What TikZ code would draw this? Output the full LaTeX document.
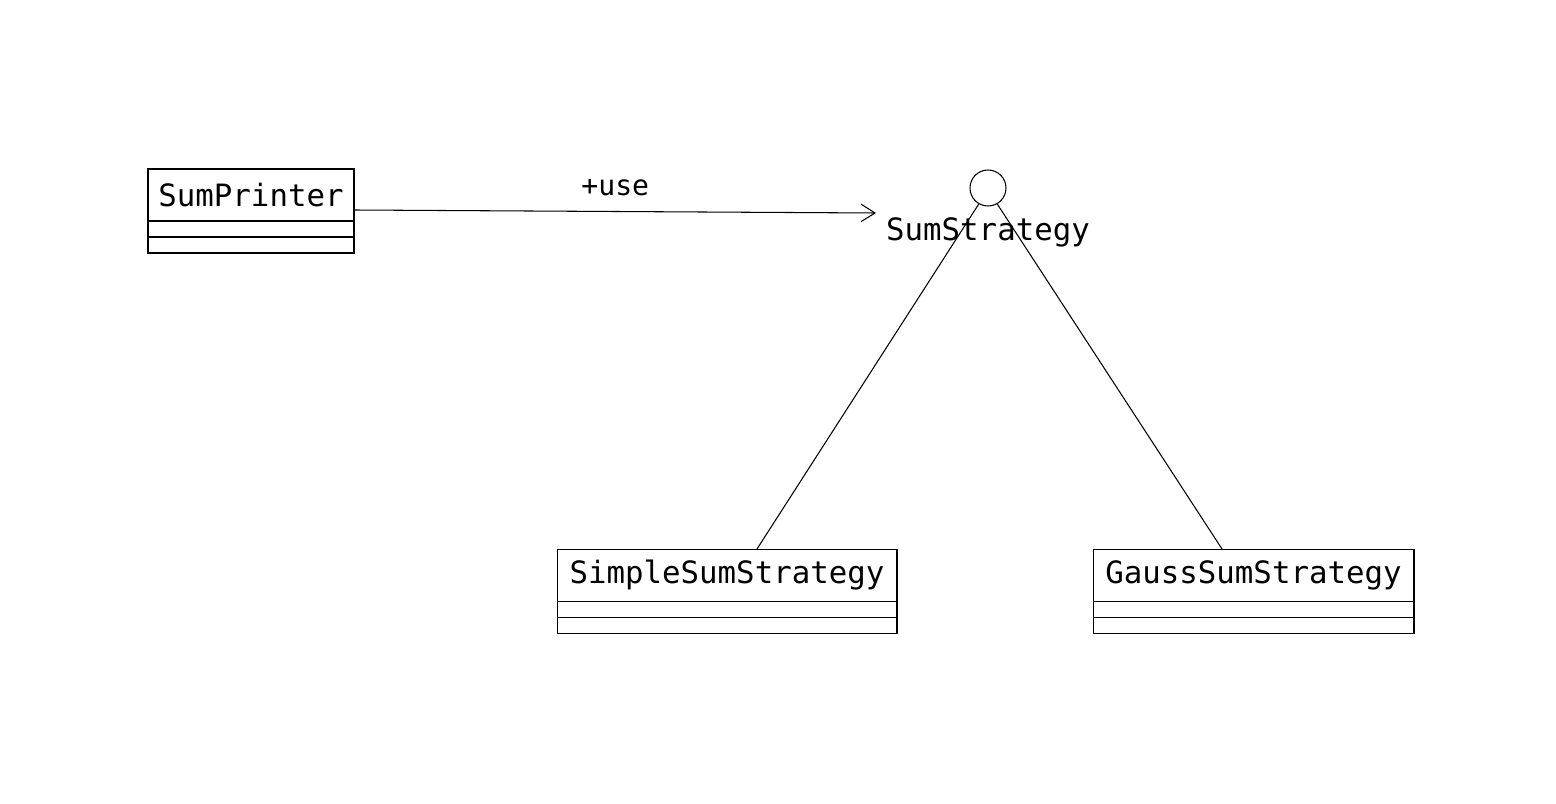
\documentclass[tikz,border=0pt]{standalone}
\usepackage{fontspec}
\setmonofont{DejaVu Sans Mono}
\usetikzlibrary{arrows.meta,positioning}

\begin{document}
\begin{tikzpicture}
  [
  x=0.02cm, y=-0.02cm, font=\ttfamily\fontsize{17.5}{20}\selectfont, line width=0.6pt,
  classname/.style={rectangle, draw=black, minimum height=1.04cm, inner sep=0pt},
  classpart/.style={rectangle, draw=black, minimum height=0.32cm, inner sep=0pt},
  iface/.style={circle, draw=black, minimum size=0.72cm, inner sep=0pt}
  ]
\useasboundingbox (0,0) rectangle (1556,804);

% classes
\node[classname, minimum width=4.12cm] (printer) at (251,195) {SumPrinter};
\node[classpart, minimum width=4.12cm, below=-0.6pt of printer] (printerA) {};
\node[classpart, minimum width=4.12cm, below=-0.6pt of printerA] (printerB) {};

\node[classname, minimum width=6.8cm] (simple) at (727,575.5) {SimpleSumStrategy};
\node[classpart, minimum width=6.8cm, below=-0.6pt of simple] (simpleA) {};
\node[classpart, minimum width=6.8cm, below=-0.6pt of simpleA] (simpleB) {};

\node[classname, minimum width=6.42cm] (gauss) at (1253.5,575.5) {GaussSumStrategy};
\node[classpart, minimum width=6.42cm, below=-0.6pt of gauss] (gaussA) {};
\node[classpart, minimum width=6.42cm, below=-0.6pt of gaussA] (gaussB) {};

% interface
\node[iface] (strategy) at (988,188) {};
\node (strategylabel) at (988,232) {SumStrategy};

\coordinate (usehead) at (876,213);
\draw[-{Straight Barb[length=8pt,width=10pt]}] (printer.east |- 0,210) -- node[above=5pt, pos=0.5, font=\ttfamily\fontsize{16}{20}\selectfont\mdseries] (uselabel) {+use} (usehead);
\draw (strategy.240) -- (simple.north -| 757,0);
\draw (strategy.300) -- (gauss.north -| 1222,0);

\end{tikzpicture}
\end{document}
